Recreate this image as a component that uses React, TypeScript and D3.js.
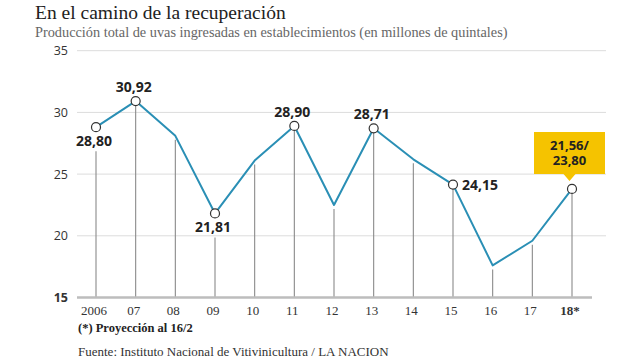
import React, { useRef, useEffect } from 'react';
import * as d3 from 'd3';

// datos
const years = ['2006', '07', '08', '09', '10', '11', '12', '13', '14', '15', '16', '17', '18*'];
const production = [28.8, 30.92, 28.1, 21.81, 26.1, 28.9, 22.5, 28.71, 26.2, 24.15, 17.6, 19.6, 23.8];
const yTicks = [15, 20, 25, 30, 35];
// etiquetas de valores: índice, texto, posición
const labelIndex = [0, 1, 3, 5, 7, 9];
const labelText = ['28,80', '30,92', '21,81', '28,90', '28,71', '24,15'];
const labelPlace = ['below', 'above', 'below', 'above', 'above', 'right'];
const calloutIndex = 12;
const calloutLines = ['21,56/', '23,80'];

const title = 'En el camino de la recuperación';
const subtitle = 'Producción total de uvas ingresadas en establecimientos (en millones de quintales)';
const footnote = '(*) Proyección al 16/2';
const source = 'Fuente: Instituto Nacional de Vitivinicultura / LA NACION';

const W = 640;
const H = 360;
const serif = '"Liberation Serif", "Times New Roman", serif';
const sans = '"Open Sans", "DejaVu Sans", sans-serif';

const App = () => {
  const svgRef = useRef<SVGSVGElement>(null);

  useEffect(() => {
    if (!svgRef.current) return;
    const svg = d3.select(svgRef.current);
    svg.selectAll('*').remove();

    const x = d3.scalePoint<string>().domain(years).range([96, 572]);
    const y = d3.scaleLinear().domain([15, 35]).range([297.5, 50.7]);

    // títulos
    svg.append('text')
      .attr('x', 35).attr('y', 19)
      .attr('font-family', serif).attr('font-size', 19.5)
      .attr('fill', '#222')
      .text(title);
    svg.append('text')
      .attr('x', 35).attr('y', 37)
      .attr('font-family', serif).attr('font-size', 14.3)
      .attr('fill', '#666')
      .text(subtitle);

    // grilla
    svg.append('g').selectAll('line')
      .data(yTicks.filter(d => d > 15))
      .join('line')
      .attr('x1', 77).attr('x2', 606)
      .attr('y1', d => y(d)).attr('y2', d => y(d))
      .attr('stroke', '#dcdcdc').attr('stroke-width', 1);

    svg.append('g').selectAll('text')
      .data(yTicks)
      .join('text')
      .attr('x', 68).attr('y', d => y(d) + 4.5)
      .attr('text-anchor', 'end')
      .attr('font-family', sans).attr('font-size', 12.5)
      .attr('font-weight', d => d === 15 ? 700 : 400)
      .attr('fill', '#333')
      .text(d => d);

    // líneas verticales
    svg.append('g').selectAll('line')
      .data(production)
      .join('line')
      .attr('x1', (d, i) => x(years[i])!).attr('x2', (d, i) => x(years[i])!)
      .attr('y1', (d, i) => {
        const k = labelIndex.indexOf(i);
        if (k >= 0 && labelPlace[k] === 'below') return y(d) + 24;
        return y(d) + 4;
      })
      .attr('y2', y(15))
      .attr('stroke', '#8a8a8a').attr('stroke-width', 1.1);

    // eje base
    svg.append('line')
      .attr('x1', 77).attr('x2', 592)
      .attr('y1', y(15)).attr('y2', y(15))
      .attr('stroke', '#bdbdbd').attr('stroke-width', 2.5);

    svg.append('g').selectAll('text')
      .data(years)
      .join('text')
      .attr('x', d => x(d)! - 2).attr('y', 315)
      .attr('text-anchor', 'middle')
      .attr('font-family', serif).attr('font-size', 13)
      .attr('font-weight', d => d.includes('*') ? 700 : 400)
      .attr('fill', '#333')
      .text(d => d);

    // serie
    const line = d3.line<number>()
      .x((d, i) => x(years[i])!)
      .y(d => y(d));
    svg.append('path')
      .datum(production)
      .attr('d', line)
      .attr('fill', 'none')
      .attr('stroke', '#2a8fb5')
      .attr('stroke-width', 2)
      .attr('stroke-linejoin', 'round');

    // callout amarillo
    const cx = x(years[calloutIndex])!;
    const cy = y(production[calloutIndex]);
    const bx = cx - 38;
    const bw = 71;
    const by = cy - 57;
    const bh = 42;
    svg.append('path')
      .attr('d', `M${bx},${by}h${bw}v${bh}h${-(bw / 2 - 6)}l-6,7l-6,-7h${-(bw / 2 - 6)}z`)
      .attr('fill', '#f5c300');
    svg.append('g').selectAll('text')
      .data(calloutLines)
      .join('text')
      .attr('x', bx + bw / 2).attr('y', (d, i) => by + 18 + i * 15)
      .attr('text-anchor', 'middle')
      .attr('font-family', sans).attr('font-size', 13).attr('font-weight', 700)
      .attr('fill', '#222')
      .text(d => d);

    // puntos
    const marked = [...labelIndex, calloutIndex];
    svg.append('g').selectAll('circle')
      .data(marked)
      .join('circle')
      .attr('cx', i => x(years[i])!)
      .attr('cy', i => y(production[i]))
      .attr('r', 4.5)
      .attr('fill', '#fff')
      .attr('stroke', '#333')
      .attr('stroke-width', 1.2);

    // etiquetas de valores
    svg.append('g').selectAll('text')
      .data(labelIndex)
      .join('text')
      .attr('x', (i, k) => {
        const px = x(years[i])!;
        return labelPlace[k] === 'right' ? px + 9 : px - 2;
      })
      .attr('y', (i, k) => {
        const py = y(production[i]);
        if (labelPlace[k] === 'below') return py + 19;
        if (labelPlace[k] === 'right') return py + 5;
        return py - 9;
      })
      .attr('text-anchor', (i, k) => labelPlace[k] === 'right' ? 'start' : 'middle')
      .attr('font-family', sans).attr('font-size', 14).attr('font-weight', 700)
      .attr('fill', '#222')
      .text((i, k) => labelText[k]);

    // notas
    svg.append('text')
      .attr('x', 78).attr('y', 332)
      .attr('font-family', serif).attr('font-size', 12.5).attr('font-weight', 700)
      .attr('fill', '#222')
      .text(footnote);
    svg.append('text')
      .attr('x', 78).attr('y', 356)
      .attr('font-family', serif).attr('font-size', 13)
      .attr('fill', '#333')
      .text(source);
  }, []);

  return (
    <svg
      ref={svgRef}
      width={W}
      height={H}
      style={{ position: 'absolute', left: 0, top: 0, background: '#fff' }}
    />
  );
};

export default App;
